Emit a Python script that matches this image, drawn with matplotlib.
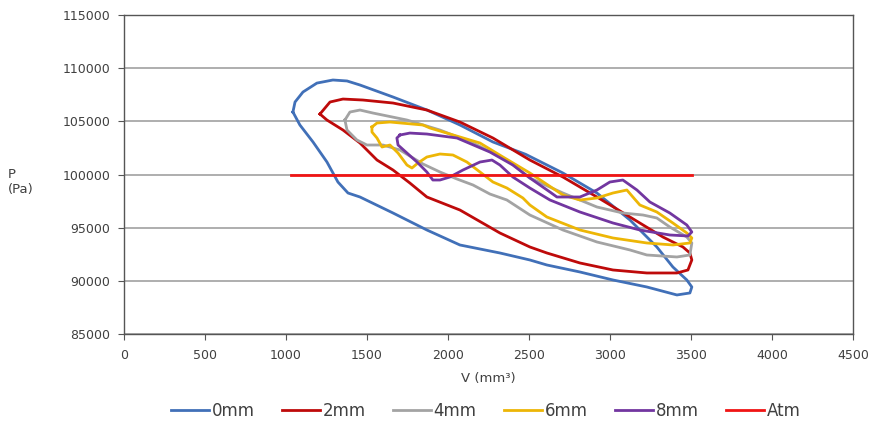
import matplotlib
matplotlib.use("Agg")
import matplotlib.pyplot as plt

# ---- data (V in mm^3, P in Pa), closed loops ----
v_0mm = [1043, 1056, 1105, 1191, 1290, 1377, 1457, 1661, 1870, 2074, 2278, 2480, 2710, 2920,
         3124, 3290, 3389, 3475, 3506, 3494, 3414, 3228, 3019, 2815, 2611, 2506, 2321, 2074,
         1870, 1661, 1457, 1383, 1321, 1253, 1167, 1086, 1043]
p_0mm = [105880, 106820, 107760, 108600, 108890, 108800, 108420, 107290, 106070, 104660, 103060,
         101900, 100142, 98261, 95722, 93184, 91302, 90080, 89422, 88858, 88670, 89422, 90080,
         90832, 91490, 91961, 92619, 93372, 94782, 96380, 97885, 98261, 99290, 101180, 103060,
         104660, 105880]

v_2mm = [1210, 1272, 1352, 1475, 1661, 1870, 2074, 2278, 2506, 2710, 2920, 3124, 3327, 3451,
         3494, 3506, 3482, 3414, 3228, 3019, 2815, 2611, 2506, 2321, 2074, 1870, 1765, 1661,
         1562, 1457, 1352, 1253, 1210]
p_2mm = [105690, 106820, 107100, 107007, 106725, 106066, 104938, 103434, 101364, 99765, 97885,
         96004, 94124, 93184, 92619, 91961, 91020, 90738, 90738, 91020, 91679, 92619, 93184,
         94500, 96662, 97885, 99201, 100424, 101364, 102963, 104185, 105126, 105690]

v_4mm = [1364, 1395, 1457, 1537, 1747, 1951, 2155, 2364, 2506, 2710, 2920, 3080, 3204, 3290,
         3370, 3475, 3506, 3494, 3414, 3228, 3124, 2920, 2710, 2506, 2364, 2259, 2155, 2056,
         1951, 1846, 1704, 1599, 1500, 1438, 1377, 1364]
p_4mm = [105126, 105878, 106066, 105784, 105126, 104185, 102963, 101364, 99672, 98261, 96946,
         96380, 96192, 95910, 95064, 94124, 93560, 92431, 92243, 92431, 92902, 93654, 94782,
         96192, 97603, 98167, 99013, 99577, 100236, 100988, 102305, 102775, 102775, 103246,
         104185, 105126]

v_6mm = [1531, 1562, 1642, 1846, 1889, 2198, 2340, 2506, 2710, 2815, 2920, 3019, 3105, 3142,
         3185, 3290, 3389, 3475, 3506, 3494, 3389, 3228, 3019, 2815, 2611, 2506, 2463, 2364,
         2278, 2198, 2117, 2031, 1951, 1870, 1815, 1778, 1747, 1692, 1642, 1593, 1562, 1531,
         1531]
p_6mm = [104468, 104844, 104938, 104656, 104374, 102963, 101647, 100142, 98073, 97603, 97791,
         98261, 98543, 97885, 97133, 96474, 95440, 94500, 94030, 93560, 93372, 93560, 94030,
         94782, 96004, 97133, 97791, 98731, 99295, 100236, 101176, 101835, 101929, 101647,
         101082, 100612, 100894, 102023, 102775, 102587, 103434, 103997, 104468]

v_8mm = [1704, 1765, 1870, 2056, 2259, 2401, 2506, 2630, 2673, 2815, 2920, 3000, 3080, 3167,
         3247, 3370, 3475, 3506, 3482, 3370, 3185, 3019, 2815, 2630, 2506, 2401, 2321, 2272,
         2198, 2093, 2012, 1951, 1907, 1870, 1809, 1747, 1692, 1685, 1704]
p_8mm = [103715, 103900, 103810, 103434, 102117, 100894, 99672, 98355, 97885, 97885, 98543,
         99295, 99483, 98543, 97415, 96380, 95252, 94594, 94218, 94312, 94782, 95440, 96474,
         97603, 98731, 99765, 100894, 101364, 101176, 100424, 99765, 99483, 99483, 100236,
         101176, 102023, 102775, 103434, 103715]

v_atm = [1030, 3510]
p_atm = [100000, 100000]

series = [
    ("0mm", v_0mm, p_0mm, "#4170B8"),
    ("2mm", v_2mm, p_2mm, "#BE0A0A"),
    ("4mm", v_4mm, p_4mm, "#A3A3A3"),
    ("6mm", v_6mm, p_6mm, "#EDB606"),
    ("8mm", v_8mm, p_8mm, "#7236A0"),
    ("Atm", v_atm, p_atm, "#F01414"),
]

xticks = list(range(0, 4501, 500))
yticks = list(range(85000, 115001, 5000))

fig = plt.figure(figsize=(8.72, 4.30), dpi=100)
ax = fig.add_axes([0.1422, 0.2233, 0.8358, 0.7417])

for label, v, p, c in series:
    ax.plot(v, p, color=c, lw=2.0, label=label, solid_joinstyle="round")

ax.set_xlim(0, 4500)
ax.set_ylim(85000, 115000)
ax.set_xticks(xticks)
ax.set_yticks(yticks)
ax.grid(axis="y", color="#A8A8A8", lw=1.3)
ax.set_axisbelow(True)
for s in ax.spines.values():
    s.set_color("#555555")
    s.set_linewidth(1.0)
ax.tick_params(axis="both", length=4, color="#555555", labelsize=9, labelcolor="#404040")
ax.tick_params(axis="y", pad=6)
ax.tick_params(axis="x", pad=7)

ax.set_xlabel("V (mm³)", fontsize=9.5, color="#404040", labelpad=7)
fig.text(0.009, 0.577, "P\n(Pa)", fontsize=9.5, color="#404040", ha="left", va="center",
         linespacing=1.2)

leg = fig.legend(loc="center", bbox_to_anchor=(0.557, 0.045), ncol=6, frameon=False,
                 fontsize=12, handlelength=2.3, handletextpad=0.15, columnspacing=1.63)
for t in leg.get_texts():
    t.set_color("#404040")

fig.savefig("out.png", dpi=100)
